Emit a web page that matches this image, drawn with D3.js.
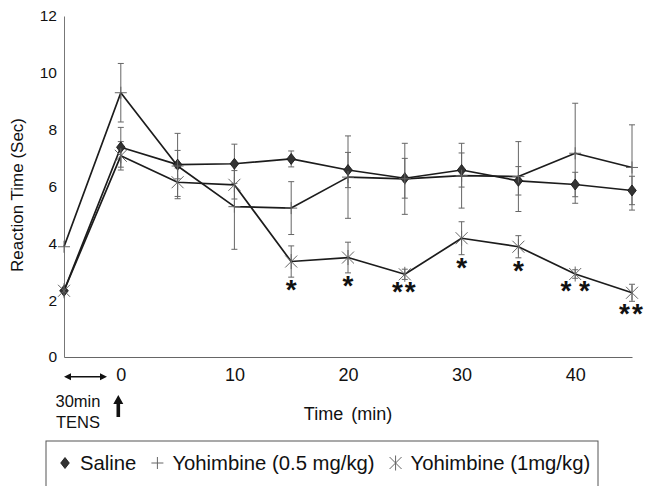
<!DOCTYPE html>
<html>
<head>
<meta charset="utf-8">
<script src="https://cdn.jsdelivr.net/npm/d3@7"></script>
<style>
  body { margin: 0; background: #fff; }
  svg { display: block; font-family: "Liberation Sans", Arial, Helvetica, sans-serif; }
</style>
</head>
<body>
<svg id="chart" width="653" height="486"></svg>
<script>
// time in minutes; -5 stands for the pre-TENS baseline drawn on the y axis
const times = [-5, 0, 5, 10, 15, 20, 25, 30, 35, 40, 45];
const xTicks = [0, 10, 20, 30, 40];
const yTicks = [0, 2, 4, 6, 8, 10, 12];

const saline    = [2.33, 7.38, 6.77, 6.80, 6.97, 6.58, 6.29, 6.58, 6.20, 6.07, 5.86];
const salineErr = [0, 0.70, 0.50, 0.69, 0.28, 0.62, 0.70, 0.60, 0.50, 0.43, 0.50];
const yoh05     = [3.88, 9.30, 6.72, 5.29, 5.24, 6.33, 6.27, 6.38, 6.35, 7.17, 6.67];
const yoh05Err  = [0, 1.03, 1.15, 1.50, 0.93, 1.45, 1.25, 1.14, 1.23, 1.76, 1.50];
const yoh1      = [2.33, 7.08, 6.15, 6.06, 3.36, 3.50, 2.91, 4.18, 3.88, 2.92, 2.26];
const yoh1Err   = [0, 0.50, 0.50, 0.50, 0.55, 0.54, 0.18, 0.58, 0.39, 0.15, 0.30];
const signif    = ["", "", "", "", "*", "*", "**", "*", "*", "* *", "**"];

const legendLabels = ["Saline", "Yohimbine (0.5 mg/kg)", "Yohimbine (1mg/kg)"];

const svg = d3.select("#chart");

const x = d3.scaleLinear().domain([-5, 45]).range([64, 632]);
const y = d3.scaleLinear().domain([0, 12]).range([357, 16]);

// marker shapes
const markers = {
  diamond: "M0,-5.5L4.3,0L0,5.5L-4.3,0Z",
  plus: "M-6,0H6M0,-6V6",
  star: "M-6,-6L6,6M-6,6L6,-6M0,-7.5V7.5"
};

const series = [
  {name: legendLabels[0], values: saline, err: salineErr, marker: "diamond"},
  {name: legendLabels[1], values: yoh05, err: yoh05Err, marker: "plus"},
  {name: legendLabels[2], values: yoh1, err: yoh1Err, marker: "star"}
];

function drawMarker(g, type) {
  if (type === "diamond") {
    g.append("path").attr("d", markers.diamond)
      .attr("fill", "#333").attr("stroke", "#111").attr("stroke-width", 0.8);
  } else {
    g.append("path").attr("d", markers[type])
      .attr("fill", "none").attr("stroke", "#666").attr("stroke-width", 1);
  }
}

// axes
const yAxis = svg.append("g")
  .attr("transform", `translate(${x(-5)},0)`)
  .call(d3.axisLeft(y).tickValues(yTicks).tickSize(0).tickPadding(7));
yAxis.selectAll("text").attr("font-size", "15.5px").attr("fill", "#111").attr("font-family", null);
yAxis.select(".domain").attr("stroke", "#777").attr("stroke-width", 1);

const xAxis = svg.append("g")
  .attr("transform", `translate(0,${y(0)})`)
  .call(d3.axisBottom(x).tickValues(xTicks).tickSize(0).tickPadding(11));
xAxis.selectAll("text").attr("font-size", "18px").attr("fill", "#111").attr("font-family", null);
xAxis.select(".domain").attr("stroke", "#666").attr("stroke-width", 1.2);

svg.append("text")
  .attr("transform", `translate(23,195) rotate(-90)`)
  .attr("text-anchor", "middle")
  .attr("font-size", "17px").attr("fill", "#111")
  .text("Reaction Time (Sec)");

svg.append("text")
  .attr("x", x(20)).attr("y", 420)
  .attr("text-anchor", "middle")
  .attr("font-size", "18px").attr("fill", "#111")
  .attr("word-spacing", "3px")
  .text("Time (min)");

// error bars
series.forEach(s => {
  const g = svg.append("g").attr("stroke", "#666").attr("stroke-width", 1);
  s.values.forEach((v, i) => {
    const e = s.err[i];
    if (!e) return;
    const cx = x(times[i]);
    g.append("line").attr("x1", cx).attr("x2", cx).attr("y1", y(v - e)).attr("y2", y(v + e));
    g.append("line").attr("x1", cx - 3).attr("x2", cx + 3).attr("y1", y(v - e)).attr("y2", y(v - e));
    g.append("line").attr("x1", cx - 3).attr("x2", cx + 3).attr("y1", y(v + e)).attr("y2", y(v + e));
  });
});

// lines
const line = d3.line().x((d, i) => x(times[i])).y(d => y(d));
series.forEach(s => {
  svg.append("path")
    .datum(s.values)
    .attr("d", line)
    .attr("fill", "none")
    .attr("stroke", "#1c1c1c")
    .attr("stroke-width", 1.7)
    .attr("stroke-linejoin", "round");
});

// markers
series.forEach(s => {
  s.values.forEach((v, i) => {
    const g = svg.append("g").attr("transform", `translate(${x(times[i])},${y(v)})`);
    drawMarker(g, s.marker);
  });
});

// significance stars under the 1 mg/kg series
svg.append("g").selectAll("text")
  .data(signif.map((s, i) => ({s, i})).filter(d => d.s))
  .join("text")
  .attr("x", d => x(times[d.i]))
  .attr("y", d => y(yoh1[d.i] - yoh1Err[d.i]) + 22)
  .attr("text-anchor", "middle")
  .attr("font-size", "28px")
  .attr("font-weight", "bold")
  .attr("fill", "#111")
  .attr("letter-spacing", d => d.s === "**" ? "2px" : null)
  .style("white-space", "pre")
  .text(d => d.s);

// TENS annotation
const arrowY = 376.7;
const ann = svg.append("g").attr("fill", "#111").attr("stroke", "#111");
ann.append("line").attr("x1", x(-5) + 4).attr("x2", 107 - 4).attr("y1", arrowY).attr("y2", arrowY).attr("stroke-width", 1.5);
ann.append("path").attr("d", `M${x(-5)},${arrowY}l7,-3.5v7Z`).attr("stroke", "none");
ann.append("path").attr("d", `M107,${arrowY}l-7,-3.5v7Z`).attr("stroke", "none");

const ax = x(0) - 2.5;
ann.append("path")
  .attr("d", `M${ax},395l-5,9h3.2v13h3.6v-13h3.2Z`)
  .attr("stroke", "none");

svg.append("text").attr("x", 78).attr("y", 407).attr("text-anchor", "middle")
  .attr("font-size", "16.5px").attr("fill", "#111").text("30min");
svg.append("text").attr("x", 78).attr("y", 428).attr("text-anchor", "middle")
  .attr("font-size", "16.5px").attr("fill", "#111").text("TENS");

// legend
svg.append("rect")
  .attr("x", 46).attr("y", 441).attr("width", 552).attr("height", 60)
  .attr("fill", "none").attr("stroke", "#555").attr("stroke-width", 1);

let lx = 65;
series.forEach(s => {
  const g = svg.append("g").attr("transform", `translate(${lx},463)`);
  drawMarker(g, s.marker);
  const t = svg.append("text")
    .attr("x", lx + 15).attr("y", 470)
    .attr("font-size", "20.3px").attr("fill", "#111")
    .text(s.name);
  lx += 15 + t.node().getComputedTextLength() + 21;
});
</script>
</body>
</html>
